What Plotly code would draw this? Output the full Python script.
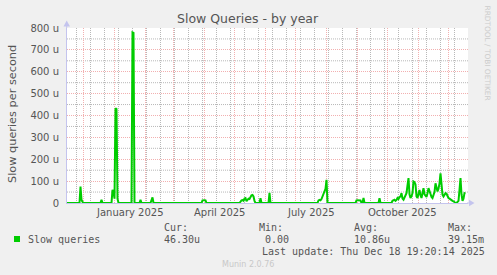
import plotly.graph_objects as go

# ---------------- data (daily averages, unit: micro queries / second) ----------------
dates = [
    "2024-11-14", "2024-11-27", "2024-11-28", "2024-11-29", "2024-11-30", "2024-12-01",
    "2024-12-18", "2024-12-19", "2024-12-20",
    "2024-12-29", "2024-12-30", "2024-12-31", "2025-01-01", "2025-01-02", "2025-01-03",
    "2025-01-04", "2025-01-05",
    "2025-01-18", "2025-01-19", "2025-01-20", "2025-01-21",
    "2025-01-26", "2025-01-27", "2025-01-28",
    "2025-02-06", "2025-02-07", "2025-02-08", "2025-02-09",
    "2025-03-29", "2025-03-30", "2025-03-31", "2025-04-01", "2025-04-02", "2025-04-03",
    "2025-05-06", "2025-05-07", "2025-05-08", "2025-05-09", "2025-05-10", "2025-05-11",
    "2025-05-12", "2025-05-13", "2025-05-14", "2025-05-15", "2025-05-16", "2025-05-17",
    "2025-05-18", "2025-05-19", "2025-05-20", "2025-05-21", "2025-05-22",
    "2025-05-26", "2025-05-27", "2025-05-28",
    "2025-06-04", "2025-06-05", "2025-06-06",
    "2025-07-23", "2025-07-24", "2025-07-25", "2025-07-26", "2025-07-27", "2025-07-28",
    "2025-07-29", "2025-07-30", "2025-07-31", "2025-08-01", "2025-08-02",
    "2025-08-30", "2025-08-31", "2025-09-01", "2025-09-02", "2025-09-03", "2025-09-04",
    "2025-09-05", "2025-09-06", "2025-09-07", "2025-09-08",
    "2025-09-22", "2025-09-23", "2025-09-24",
    "2025-10-05", "2025-10-06", "2025-10-07", "2025-10-08", "2025-10-09", "2025-10-10",
    "2025-10-11", "2025-10-12", "2025-10-13", "2025-10-14", "2025-10-15", "2025-10-16",
    "2025-10-17", "2025-10-18", "2025-10-19", "2025-10-20", "2025-10-21", "2025-10-22",
    "2025-10-23", "2025-10-24", "2025-10-25", "2025-10-26", "2025-10-27", "2025-10-28",
    "2025-10-29", "2025-10-30", "2025-10-31", "2025-11-01", "2025-11-02", "2025-11-03",
    "2025-11-04", "2025-11-05", "2025-11-06", "2025-11-07", "2025-11-08", "2025-11-09",
    "2025-11-10", "2025-11-11", "2025-11-12", "2025-11-13", "2025-11-14", "2025-11-15",
    "2025-11-16", "2025-11-17", "2025-11-18", "2025-11-19", "2025-11-20", "2025-11-21",
    "2025-11-22", "2025-11-23", "2025-11-24", "2025-11-25", "2025-11-26", "2025-11-27",
    "2025-11-28", "2025-11-29", "2025-11-30", "2025-12-01", "2025-12-02", "2025-12-03",
    "2025-12-04", "2025-12-05", "2025-12-06", "2025-12-07", "2025-12-08", "2025-12-09",
    "2025-12-10", "2025-12-11", "2025-12-12", "2025-12-13", "2025-12-14", "2025-12-15",
    "2025-12-16", "2025-12-17", "2025-12-18",
]
values = [
    0, 0, 75, 15, 5, 0,
    0, 15, 0,
    0, 60, 50, 20, 433, 430,
    20, 0,
    0, 780, 778, 0,
    0, 15, 0,
    0, 15, 26, 0,
    0, 12, 14, 13, 12, 0,
    0, 10, 12, 13, 10, 20,
    22, 8, 12, 20, 18, 30,
    35, 37, 30, 10, 0,
    0, 22, 0,
    0, 46, 0,
    0, 12, 14, 12, 18, 30,
    40, 55, 65, 106, 0,
    0, 12, 13, 12, 12, 12,
    0, 0, 23, 0,
    0, 22, 0,
    0, 10, 12, 15, 10, 14,
    23, 18, 27, 30, 45, 20,
    15, 28, 32, 45, 80, 114,
    40, 23, 30, 45, 98, 95,
    85, 30, 23, 40, 60, 35,
    23, 45, 68, 40, 30, 28,
    45, 68, 55, 38, 28, 23,
    35, 50, 90, 70, 53, 65,
    90, 136, 70, 38, 30, 35,
    45, 42, 30, 23, 20, 15,
    13, 10, 8, 2, 0, 0,
    5, 10, 60, 114, 40, 10,
    20, 45, 46,
]

y_tick_vals = [0, 100, 200, 300, 400, 500, 600, 700, 800]
y_tick_text = ["0", "100 u", "200 u", "300 u", "400 u", "500 u", "600 u", "700 u", "800 u"]
y_minor_vals = [50, 150, 250, 350, 450, 550, 650, 750]

x_label_dates = ["2025-01-16", "2025-04-16", "2025-07-16", "2025-10-16"]
x_label_text = ["January 2025", "April 2025", "July 2025", "October 2025"]
month_grid = ["2024-12-01", "2025-01-01", "2025-02-01", "2025-03-01", "2025-04-01",
              "2025-05-01", "2025-06-01", "2025-07-01", "2025-08-01", "2025-09-01",
              "2025-10-01", "2025-11-01", "2025-12-01"]
biweek_grid = ["2024-11-24", "2024-12-08", "2024-12-22", "2025-01-05", "2025-01-19",
               "2025-02-02", "2025-02-16", "2025-03-02", "2025-03-16", "2025-03-30",
               "2025-04-13", "2025-04-27", "2025-05-11", "2025-05-25", "2025-06-08",
               "2025-06-22", "2025-07-06", "2025-07-20", "2025-08-03", "2025-08-17",
               "2025-08-31", "2025-09-14", "2025-09-28", "2025-10-12", "2025-10-26",
               "2025-11-09", "2025-11-23", "2025-12-07"]
x_range = ["2024-11-14 12:00", "2025-12-20 12:00"]

series_name = "Slow queries"
stat_heads = ["Cur:", "Min:", "Avg:", "Max:"]
stat_vals = ["46.30u", "0.00", "10.86u", "39.15m"]

# ---------------- layout helpers ----------------
W, H = 497, 275
L, R, T, B = 67, 29, 28, 72
PW, PH = W - L - R, H - T - B


def px(x):
    return (x - L) / PW


def py(y):
    return (H - B - y) / PH


TXT = "#555555"
MONO = "DejaVu Sans Mono"
SANS = "DejaVu Sans"
GREEN = "#00CC00"
RED_GRID = "#F2B0B0"
GREY_GRID = "#B8B8B8"
AXIS_COL = "#C4C4EE"
DOTS = "1px,1px"

fig = go.Figure()
fig.add_trace(go.Scatter(x=dates, y=values, mode="lines",
                         line=dict(color=GREEN, width=2), showlegend=False,
                         hoverinfo="skip"))

annotations = []
annotations.append(dict(text="Slow Queries - by year", x=px(247.5), y=py(18.5), xref="paper",
                        yref="paper", showarrow=False, xanchor="center", yanchor="middle",
                        font=dict(family=SANS, size=12.5, color=TXT)))
annotations.append(dict(text="Slow queries per second", x=px(12), y=py(114), xref="paper",
                        yref="paper", showarrow=False, xanchor="center", yanchor="middle",
                        textangle=-90, font=dict(family=SANS, size=11.3, color=TXT)))
for d, t in zip(x_label_dates, x_label_text):
    annotations.append(dict(text=t, x=d, y=py(212), xref="x", yref="paper", showarrow=False,
                            xanchor="center", yanchor="middle",
                            font=dict(family=SANS, size=10, color=TXT)))
annotations.append(dict(text="RRDTOOL / TOBI OETIKER", x=px(487.5), y=py(53), xref="paper",
                        yref="paper", showarrow=False, xanchor="center", yanchor="middle",
                        textangle=90, font=dict(family=SANS, size=7.4, color="#CCCCCC")))
annotations.append(dict(text=series_name, x=px(25.5), y=py(239.5), xref="paper", yref="paper",
                        showarrow=False, xanchor="left", yanchor="middle",
                        font=dict(family=MONO, size=10, color=TXT)))
head_x = [162, 257, 352, 446]
val_x = [162, 262.5, 352, 446]
for hx, vx, h, v in zip(head_x, val_x, stat_heads, stat_vals):
    annotations.append(dict(text=h, x=px(hx), y=py(227.5), xref="paper", yref="paper",
                            showarrow=False, xanchor="left", yanchor="middle",
                            font=dict(family=MONO, size=10, color=TXT)))
    annotations.append(dict(text=v, x=px(vx), y=py(239.5), xref="paper", yref="paper",
                            showarrow=False, xanchor="left", yanchor="middle",
                            font=dict(family=MONO, size=10, color=TXT)))
annotations.append(dict(text="Last update: Thu Dec 18 19:20:14 2025", x=px(260), y=py(251),
                        xref="paper", yref="paper", showarrow=False, xanchor="left",
                        yanchor="middle", font=dict(family=MONO, size=10, color=TXT)))
annotations.append(dict(text="Munin 2.0.76", x=px(248), y=py(264.5), xref="paper",
                        yref="paper", showarrow=False, xanchor="center", yanchor="middle",
                        font=dict(family=SANS, size=8, color="#C8C8C8")))

shapes = []
for d in biweek_grid:
    shapes.append(dict(type="line", xref="x", yref="paper", x0=d, x1=d, y0=0, y1=1,
                       layer="between", line=dict(color=GREY_GRID, width=1, dash=DOTS)))
for v in y_minor_vals:
    shapes.append(dict(type="line", xref="paper", yref="y", x0=0, x1=1, y0=v, y1=v,
                       layer="between", line=dict(color=GREY_GRID, width=1, dash=DOTS)))
shapes += [
    dict(type="rect", xref="paper", yref="paper", x0=px(14), x1=px(20), y0=py(242), y1=py(236),
         fillcolor=GREEN, line=dict(width=0)),
    dict(type="path", xref="paper", yref="paper",
         path=f"M {px(63.5)},{py(26.5)} L {px(66.7)},{py(20.5)} L {px(70)},{py(26.5)} Z",
         fillcolor=AXIS_COL, line=dict(width=0)),
    dict(type="line", xref="paper", yref="paper", x0=px(66.7), x1=px(66.7), y0=py(28),
         y1=py(24), line=dict(color=AXIS_COL, width=1)),
    dict(type="path", xref="paper", yref="paper",
         path=f"M {px(469)},{py(199.8)} L {px(474.5)},{py(203)} L {px(469)},{py(206.2)} Z",
         fillcolor=AXIS_COL, line=dict(width=0)),
    dict(type="line", xref="paper", yref="paper", x0=px(467), x1=px(470), y0=py(203),
         y1=py(203), line=dict(color=AXIS_COL, width=1)),
]

fig.update_layout(
    width=W, height=H,
    margin=dict(l=L, r=R, t=T, b=B, pad=0),
    paper_bgcolor="#F0F0F0", plot_bgcolor="#FFFFFF",
    showlegend=False,
    annotations=annotations,
    shapes=shapes,
    xaxis=dict(type="date", range=x_range, tickmode="array", tickvals=month_grid,
               showticklabels=False, ticks="", showgrid=True, gridcolor=RED_GRID,
               griddash=DOTS, gridwidth=1, zeroline=False, showline=True,
               linecolor=AXIS_COL, linewidth=1),
    yaxis=dict(range=[0, 800], tickmode="array", tickvals=y_tick_vals, ticktext=y_tick_text,
               ticks="", ticklabelstandoff=5, showgrid=True, gridcolor=RED_GRID,
               griddash=DOTS, gridwidth=1, zeroline=False, showline=True,
               linecolor=AXIS_COL, linewidth=1,
               tickfont=dict(family=SANS, size=10, color=TXT)),
)

fig.write_html("out.html")
